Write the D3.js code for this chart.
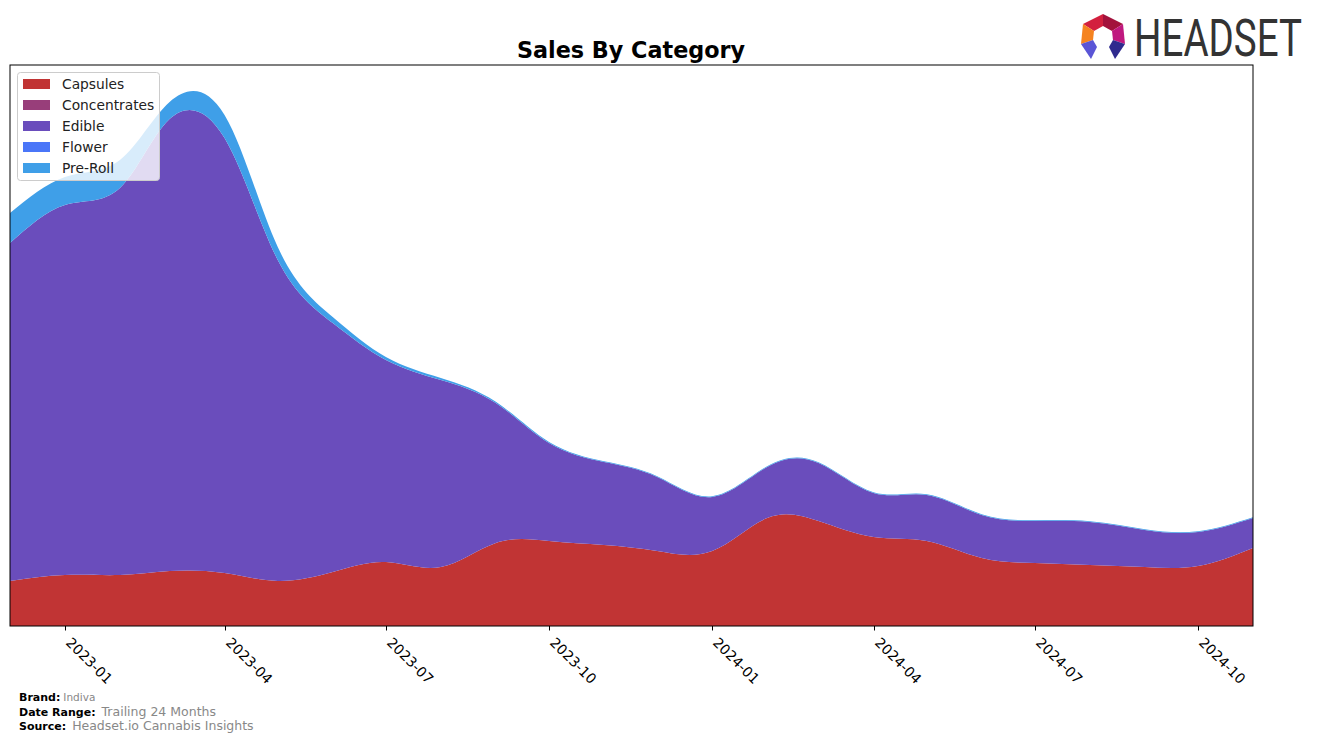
<!DOCTYPE html>
<html><head><meta charset="utf-8">
<script src="https://cdn.jsdelivr.net/npm/d3@7"></script>
<style>body{margin:0;background:#fff;} svg{display:block;font-family:"DejaVu Sans",sans-serif;}</style>
</head><body>
<svg id="c" width="1317" height="742"></svg>
<script>
const months = ["2022-12","2023-01","2023-02","2023-03","2023-04","2023-05","2023-06","2023-07","2023-08","2023-09","2023-10","2023-11","2023-12","2024-01","2024-02","2024-03","2024-04","2024-05","2024-06","2024-07","2024-08","2024-09","2024-10","2024-11"];
const categories = ["Capsules","Concentrates","Edible","Flower","Pre-Roll"];
const capsules     = [45,51,51,55,53,45,54,64,59,83,85,81,75,75,108,105,89,85,68,63,61,59,60,78];
const concentrates = [0,0,0,0,0,0,0,0,0,0,0,0,0,0,0,0,0,0,0,0,0,0,0,0];
const edible       = [338,370,387,452,435,321,249,202,187,140,98,83,74,54,51,58,44,46,43,42,43,37,34,30];
const flower       = [0,0,0,0,0,0,0,0,0,0,0,0,0,0,0,0,0,0,0,0,0,0,0,0];
const preRoll      = [30,28,28,17,23,13,6,3,2,1.2,1,0.8,0.8,0.8,0.8,0.8,0.8,0.8,0.8,0.8,0.8,0.8,0.8,0.8];
const colors = ["#c13434","#983e7a","#6a4dbc","#4a76f8","#3f9fe8"];
const tickLabels = ["2023-01","2023-04","2023-07","2023-10","2024-01","2024-04","2024-07","2024-10"];

const parse = d3.timeParse("%Y-%m");
const series = [capsules, concentrates, edible, flower, preRoll];
const rows = months.map((m,i)=>{const r={date:parse(m)}; categories.forEach((c,k)=>r[c]=series[k][i]); return r;});

const svg = d3.select("#c");
const L=10,R=1253,T=65,B=626;
const x = d3.scaleTime().domain([parse(months[0]), parse(months[months.length-1])]).range([L,R]);
const y = d3.scaleLinear().domain([0,561]).range([B,T]);

const stack = d3.stack().keys(categories)(rows);
const area = d3.area().x(d=>x(d.data.date)).y0(d=>y(d[0])).y1(d=>y(d[1])).curve(d3.curveNatural);
svg.append("defs").append("clipPath").attr("id","clip").append("rect").attr("x",L).attr("y",T).attr("width",R-L).attr("height",B-T);
const g = svg.append("g").attr("clip-path","url(#clip)");
g.selectAll("path").data(stack).join("path").attr("d",area).attr("fill",(d,i)=>colors[i]);

// frame
svg.append("rect").attr("x",L).attr("y",T).attr("width",R-L).attr("height",B-T).attr("fill","none").attr("stroke","#000").attr("stroke-width",1);

// x axis
const ticks = tickLabels.map(t=>parse(t));
const ax = svg.append("g");
ticks.forEach((t,i)=>{
  const tx = Math.round(x(t))+0.5;
  ax.append("line").attr("x1",tx).attr("x2",tx).attr("y1",B).attr("y2",B+4.5).attr("stroke","#000");
  ax.append("text").attr("transform",`translate(${tx+7},${B+10}) rotate(45)`).attr("font-size",14).attr("dy","0.75em").attr("fill","#000").text(tickLabels[i]);
});

// title
svg.append("text").attr("x",631).attr("y",58).attr("text-anchor","middle").attr("font-size",22.3).attr("font-weight","bold").text("Sales By Category");

// legend
const lg = svg.append("g");
lg.append("rect").attr("x",17.5).attr("y",72.5).attr("width",142).attr("height",108).attr("rx",3).attr("fill","#fff").attr("fill-opacity",0.8).attr("stroke","#ccc");
categories.forEach((c,i)=>{
  const cy = 84 + i*21;
  lg.append("rect").attr("x",23).attr("y",cy-5).attr("width",27).attr("height",10).attr("fill",colors[i]);
  lg.append("text").attr("x",62).attr("y",cy).attr("dy","0.36em").attr("font-size",13.8).attr("fill","#222").text(c);
});

// footer
const ft = svg.append("g").attr("font-size",11);
function footer(yy,label,val,vs,dx){
  const t = ft.append("text").attr("x",19).attr("y",yy);
  t.append("tspan").attr("font-weight","bold").attr("fill","#000").text(label);
  t.append("tspan").attr("fill","#888").attr("font-size",vs).attr("dx",dx).text(val);
}
footer(701,"Brand:","Indiva",10.5,3);
footer(716,"Date Range:","Trailing 24 Months",12.5,6);
footer(730,"Source:","Headset.io Cannabis Insights",12.5,6);

// logo
const lo = svg.append("g");
const P = a=>a.map(p=>p.join(",")).join(" ");
lo.append("polygon").attr("points",P([[1083,24],[1103,14],[1103,26],[1094,31]])).attr("fill","#d3203e");
lo.append("polygon").attr("points",P([[1103,14],[1123,24],[1112,31],[1103,26]])).attr("fill","#a3123c");
lo.append("polygon").attr("points",P([[1123,24],[1125,44],[1113,40],[1112,31]])).attr("fill","#c0187f");
lo.append("polygon").attr("points",P([[1083,24],[1094,31],[1093,40],[1081,44]])).attr("fill","#f58320");
lo.append("polygon").attr("points",P([[1081,44],[1093,40],[1097,47],[1091,59]])).attr("fill","#5a55d6");
lo.append("polygon").attr("points",P([[1125,44],[1113,40],[1109,47],[1115,59]])).attr("fill","#2f2a8e");
lo.append("text").attr("transform","translate(1134,56) scale(1,1.37)").attr("font-family","Roboto, sans-serif").attr("font-size",38).attr("fill","#333").attr("textLength",168).attr("lengthAdjust","spacingAndGlyphs").text("HEADSET");
</script>
</body></html>
